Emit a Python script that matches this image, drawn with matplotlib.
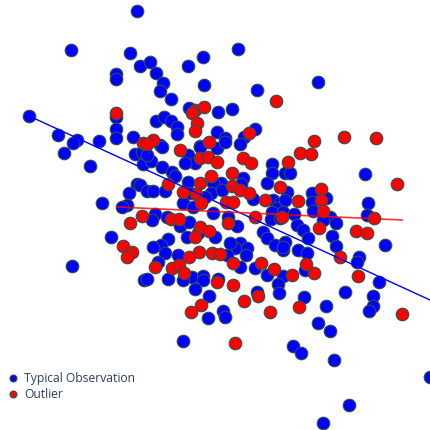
import numpy as np
import matplotlib.pyplot as plt

plt.rcParams['font.family'] = ['Open Sans', 'DejaVu Sans']

typ_x = [137, 71, 130, 140, 116, 116, 116, 29, 116, 58, 77, 73, 99, 116, 133,
         238, 203, 188, 150, 156, 163, 160, 204, 257, 171, 189, 218, 232, 156, 164,
         171, 177, 177, 217, 225, 255, 244, 200, 160, 240, 318,
         64, 90, 135, 143, 137, 129, 102, 127, 122, 111, 72, 144,
         162, 200, 217, 225, 142, 151, 147, 188, 195, 185, 162, 272, 272, 172, 175,
         221, 213, 243, 241, 140, 267, 188, 147, 153, 165, 190, 211, 222, 205, 253,
         183, 273, 280, 193, 277, 272, 155, 152, 167, 180, 189, 213, 228, 237, 271,
         280, 263, 267, 275, 198, 187, 215, 168, 161, 240, 247, 235, 230, 153, 165,
         178, 227, 283, 246, 158, 240, 255, 147, 168, 192, 203, 218, 267, 283,
         285, 290, 365, 287, 285, 312, 326, 312, 368, 313, 330, 323, 336, 367, 283,
         294, 297, 303, 308, 332, 385, 285, 283, 298, 307, 336, 359, 357, 305, 379,
         183, 203, 195, 209, 223, 225, 208, 257, 278, 279, 183,
         304, 326, 345, 373, 373, 369, 318, 330, 293, 301, 334, 430, 349, 323]
typ_y = [11, 50, 53, 66, 74, 79, 117, 116, 129, 135, 140, 143, 141, 138, 137,
         49, 57, 66, 62, 73, 83, 91, 85, 90, 99, 108, 112, 109, 121, 117,
         121, 127, 134, 132, 138, 129, 137, 146, 145, 144, 82,
         153, 166, 154, 164, 184, 193, 203, 205, 207, 237, 266, 280,
         147, 147, 148, 142, 152, 161, 155, 155, 163, 163, 167, 164, 173, 172, 176,
         183, 183, 178, 184, 185, 183, 182, 191, 191, 191, 193, 193, 190, 197, 199,
         203, 200, 203, 207, 208, 212, 214, 220, 217, 226, 222, 213, 217, 226, 219,
         218, 232, 238, 245, 233, 237, 237, 239, 245, 243, 248, 248, 243, 247, 253,
         255, 255, 250, 255, 262, 267, 268, 279, 279, 277, 276, 279, 275, 276,
         173, 173, 174, 192, 200, 193, 198, 202, 203, 211, 217, 220, 223, 215, 212,
         214, 225, 230, 238, 236, 245, 242, 247, 250, 253, 246, 257, 262, 270, 282,
         280, 280, 289, 296, 311, 317, 318, 292, 284, 293, 341,
         297, 306, 292, 296, 306, 311, 323, 331, 346, 353, 360, 377, 405, 423]

# outliers
out_x = [116, 143, 276, 195, 204, 192, 197, 195, 249, 153, 147, 209,
         344, 376, 314, 142, 130, 123, 132, 127,
         180, 200, 208, 217, 243, 251, 211, 232, 168, 200, 183, 196, 232, 240,
         249, 280, 265, 201, 226, 233, 171, 179, 255, 228, 200, 209, 195, 199,
         212, 220, 189, 155, 172, 179, 184, 233, 261, 274,
         300, 311, 288, 397, 321, 321, 298, 323, 374, 282, 319, 356, 367, 340,
         306, 314, 292, 358,
         217, 233, 201, 191, 244, 258, 270, 235, 299, 402]
out_y = [113, 143, 101, 110, 107, 113, 123, 131, 133, 140, 144, 142,
         137, 138, 141, 216, 223, 246, 252, 257,
         150, 158, 157, 162, 158, 163, 176, 173, 184, 183, 192, 194, 186, 190,
         193, 187, 200, 203, 202, 202, 219, 219, 217, 223, 227, 231, 237, 252,
         253, 254, 257, 267, 268, 265, 273, 263, 263, 269,
         153, 154, 162, 184, 189, 200, 201, 211, 218, 217, 228, 231, 233, 257,
         264, 273, 275, 276,
         282, 285, 305, 312, 301, 296, 312, 343, 307, 314]

# fitted lines
typ_line_x = [29, 430]
typ_line_y = [116, 300]
out_line_x = [117, 402]
out_line_y = [207, 220]

fig = plt.figure(figsize=(4.3, 4.3), dpi=100)
ax = fig.add_axes([0, 0, 1, 1])

ax.scatter(typ_x, typ_y, s=82, c='#0000ff', edgecolors='#2f4f4f', linewidths=0.8,
           label='Typical Observation', zorder=2)
ax.scatter(out_x, out_y, s=82, c='#ff0000', edgecolors='#2f4f4f', linewidths=0.8,
           label='Outlier', zorder=2)
ax.plot(typ_line_x, typ_line_y, color='#0000ff', lw=1, zorder=3)
ax.plot(out_line_x, out_line_y, color='#ff0000', lw=1.2, alpha=0.8, zorder=3)

ax.set_xlim(0, 430)
ax.set_ylim(430, 0)
ax.axis('off')

ax.legend(loc='lower left', bbox_to_anchor=(-0.008, 0.057), frameon=False,
          markerscale=0.55, handletextpad=-0.1, labelspacing=0.25,
          fontsize=8.7, labelcolor='#2a3f5f', borderaxespad=0)

fig.savefig('out.png', dpi=100)
